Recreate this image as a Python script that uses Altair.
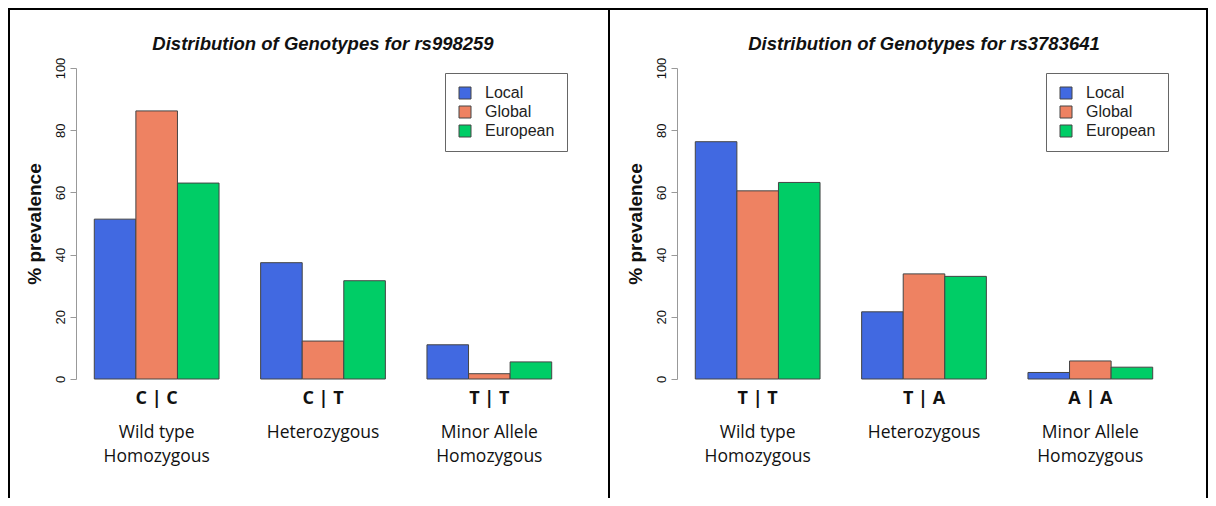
import altair as alt
import pandas as pd

populations = ["Local", "Global", "European"]
pop_colors = ["#4169E1", "#EE8262", "#00CD66"]
descriptions = ["Wild type\nHomozygous", "Heterozygous", "Minor Allele\nHomozygous"]
y_ticks = [0, 20, 40, 60, 80, 100]

snp1_title = "Distribution of Genotypes for rs998259"
snp1_genotypes = ["C | C", "C | T", "T | T"]
snp1_local = [51.4, 37.4, 11.0]
snp1_global = [86.2, 12.2, 1.7]
snp1_european = [63.0, 31.6, 5.5]

snp2_title = "Distribution of Genotypes for rs3783641"
snp2_genotypes = ["T | T", "T | A", "A | A"]
snp2_local = [76.3, 21.6, 2.1]
snp2_global = [60.5, 33.8, 5.8]
snp2_european = [63.2, 33.0, 3.8]

W, H = 494, 311
SANS = "Liberation Sans"
SLIDE = "Open Sans"
TOP = -60
BOTTOM = 430


def frame_rect(x, x2, y, y2):
    return alt.Chart(alt.Data(values=[{"k": 1}])).mark_rect(
        color="black", strokeWidth=0
    ).encode(x=alt.value(x), x2=alt.value(x2), y=alt.value(y), y2=alt.value(y2))


def panel(title, genotypes, local, glob, euro, left_x, right_x, draw_left):
    rows = []
    for pop, vals in zip(populations, [local, glob, euro]):
        for g, v in zip(genotypes, vals):
            rows.append({"genotype": g, "population": pop, "value": v})
    bars_df = pd.DataFrame(rows)
    labels_df = pd.DataFrame({"genotype": genotypes, "description": descriptions})

    x_enc = alt.X("genotype:N", sort=genotypes, axis=None,
                  scale=alt.Scale(paddingInner=0.25, paddingOuter=0.11))

    bars = alt.Chart(bars_df).mark_bar(stroke="#444444", strokeWidth=1).encode(
        x=x_enc,
        xOffset=alt.XOffset("population:N", sort=populations,
                            scale=alt.Scale(paddingInner=0, paddingOuter=0)),
        y=alt.Y("value:Q", scale=alt.Scale(domain=[0, 100], nice=False),
                axis=alt.Axis(values=y_ticks, title="% prevalence", grid=False,
                              labelAngle=270, labelFont=SANS, labelFontSize=13,
                              labelColor="#111111", labelPadding=3,
                              tickSize=6, tickColor="#999999", domainColor="#999999",
                              titleFont=SANS, titleFontSize=19, titleFontWeight="bold",
                              titleColor="#111111", titlePadding=10)),
        color=alt.Color("population:N", sort=populations,
                        scale=alt.Scale(domain=populations, range=pop_colors),
                        legend=alt.Legend(title=None, orient="none", legendX=369, legendY=5,
                                          direction="vertical", symbolType="square",
                                          symbolSize=144, symbolStrokeColor="#444444",
                                          symbolStrokeWidth=1, labelFont=SANS,
                                          labelFontSize=16, labelColor="#222222",
                                          labelOffset=12, padding=12, rowPadding=3,
                                          strokeColor="#666666", fillColor="white")),
    )

    geno = alt.Chart(labels_df).mark_text(
        font=SLIDE, fontWeight="bold", fontSize=18, baseline="alphabetic", color="#111111"
    ).encode(x=x_enc, y=alt.value(336), text="genotype:N")

    desc = alt.Chart(labels_df).mark_text(
        font=SLIDE, fontSize=17.5, baseline="alphabetic", lineBreak="\n", lineHeight=24,
        color="#111111"
    ).encode(x=x_enc, y=alt.value(370), text="description:N")

    ttl = alt.Chart(alt.Data(values=[{"t": title}])).mark_text(
        font=SANS, fontSize=18.5, fontStyle="italic", fontWeight="bold",
        baseline="alphabetic", color="#111111"
    ).encode(x=alt.value(W / 2), y=alt.value(-18), text="t:N")

    layers = [bars, geno, desc, ttl,
              frame_rect(left_x, right_x + 2, TOP, TOP + 2),
              frame_rect(right_x, right_x + 2, TOP, BOTTOM)]
    if draw_left:
        layers.append(frame_rect(left_x, left_x + 2, TOP, BOTTOM))
    return alt.layer(*layers).properties(width=W, height=H)


left = panel(snp1_title, snp1_genotypes, snp1_local, snp1_global, snp1_european,
             -68, 532, True)
right = panel(snp2_title, snp2_genotypes, snp2_local, snp2_global, snp2_european,
              -69, 529, False)

chart = alt.hconcat(left, right, spacing=107, bounds="flush").resolve_scale(
    x="independent", xOffset="independent", color="independent", y="independent"
).resolve_legend(color="independent").configure(padding=0).configure_view(stroke=None)

chart.save("out.html", embed_options={"renderer": "svg", "actions": False})
